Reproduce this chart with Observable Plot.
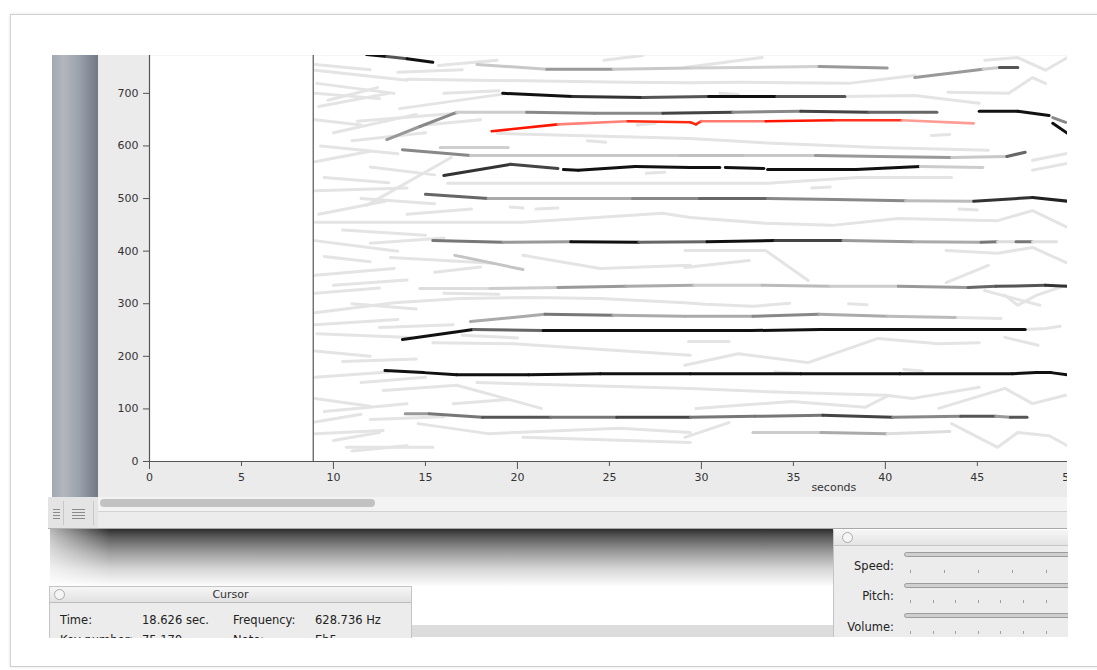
<!DOCTYPE html>
<html><head><meta charset="utf-8">
<script src="https://cdn.jsdelivr.net/npm/d3@7"></script>
<script src="https://cdn.jsdelivr.net/npm/@observablehq/plot@0.6"></script>
<style>
body{margin:0;background:#fff;font-family:"DejaVu Sans",sans-serif;}
#page{position:relative;width:1097px;height:670px;overflow:hidden;background:#fff;}
.abs{position:absolute;}
#frame{left:10px;top:14px;width:1100px;height:651px;border:1px solid #d0d0d0;box-shadow:0 0 3px rgba(0,0,0,0.12);background:#fff;}
#sidebar{left:52px;top:55px;width:46px;height:442px;background:linear-gradient(to right,#a2a8b2 0%,#b2b7bf 25%,#9aa0aa 60%,#727884 100%);}
#chart{left:98px;top:55px;width:969px;height:442px;background:#ebebeb;overflow:hidden;}
#scroll{left:98px;top:497px;width:969px;height:14px;background:#f3f3f3;}
#thumb{left:100px;top:499px;width:275px;height:8px;border-radius:4px;background:#c2c2c2;}
#status{left:98px;top:511px;width:969px;height:16px;background:#ececec;border-top:1px solid #d2d2d2;border-bottom:1px solid #a9a9a9;}
#icons{left:48px;top:497px;width:50px;height:31px;background:#e4e4e4;border-bottom:1px solid #b0b0b0;}
.ico{position:absolute;height:11px;background:repeating-linear-gradient(to bottom,#8a8a8a 0,#8a8a8a 1px,transparent 1px,transparent 3px);}
.sep{position:absolute;top:4px;width:1px;height:24px;background:#c8c8c8;}
#shadow{left:50px;top:529px;width:783px;height:57px;background:linear-gradient(to bottom,#2e2e2e 0%,#5e5e5e 15%,#9a9a9a 40%,#d6d6d6 70%,#fdfdfd 100%);-webkit-mask-image:linear-gradient(to right,rgba(0,0,0,0.35) 0,#000 60px);mask-image:linear-gradient(to right,rgba(0,0,0,0.35) 0,#000 60px);}
#graybar{left:411px;top:625px;width:422px;height:12px;background:#dcdcdc;}
#cursor{left:49px;top:586px;width:361px;height:51px;overflow:hidden;background:#ececec;border:1px solid #c4c4c4;border-bottom:none;}
#cursor .title{height:15px;background:linear-gradient(#f6f6f6,#e2e2e2);border-bottom:1px solid #bdbdbd;text-align:center;font-size:11px;line-height:15px;color:#333;}
.circle{position:absolute;width:9px;height:9px;border-radius:50%;border:1px solid #ababab;background:#f5f5f5;}
.lbl{position:absolute;font-size:11.5px;line-height:14px;color:#222;white-space:nowrap;}
#controls{left:833px;top:530px;width:234px;height:107px;overflow:hidden;background:#ececec;border-left:1px solid #c4c4c4;}
#controls .title{height:15px;background:linear-gradient(#f6f6f6,#e4e4e4);border-bottom:1px solid #c6c6c6;}
.slider{position:absolute;left:70px;width:200px;height:3px;border-radius:3px;background:#cfcfcf;border:1px solid #9c9c9c;}
.tick{position:absolute;width:1px;height:3px;background:#a0a0a0;}
.clbl{position:absolute;left:0;width:60px;text-align:right;font-size:11.5px;line-height:14px;color:#222;}
</style></head>
<body>
<div id="page">
  <div id="frame" class="abs"></div>
  <div id="sidebar" class="abs"></div>
  <div id="chart" class="abs"></div>
  <div id="scroll" class="abs"></div>
  <div id="thumb" class="abs"></div>
  <div id="status" class="abs"></div>
  <div id="icons" class="abs">
    <div class="ico" style="left:5px;top:12px;width:7px;"></div>
    <div class="sep" style="left:15px;"></div>
    <div class="ico" style="left:24px;top:12px;width:13px;"></div>
    <div class="sep" style="left:45px;"></div>
  </div>
  <div id="shadow" class="abs"></div>
  <div id="graybar" class="abs"></div>
  <div id="cursor" class="abs">
    <div class="title">Cursor</div>
    <div class="circle" style="left:4px;top:2px;"></div>
    <div class="lbl" style="left:10px;top:26px;">Time:</div>
    <div class="lbl" style="left:92px;top:26px;">18.626 sec.</div>
    <div class="lbl" style="left:183px;top:26px;">Frequency:</div>
    <div class="lbl" style="left:265px;top:26px;">628.736 Hz</div>
    <div class="lbl" style="left:10px;top:46px;">Key number:</div>
    <div class="lbl" style="left:92px;top:46px;">75.179</div>
    <div class="lbl" style="left:183px;top:46px;">Note:</div>
    <div class="lbl" style="left:265px;top:46px;">Eb5</div>
  </div>
  <div id="controls" class="abs">
    <div class="title"></div>
    <div class="circle" style="left:8px;top:2px;"></div>
    <div class="clbl" style="top:29px;">Speed:</div>
    <div class="clbl" style="top:59px;">Pitch:</div>
    <div class="clbl" style="top:90px;">Volume:</div>
    <div class="slider" style="top:22px;"></div>
    <div class="slider" style="top:53px;"></div>
    <div class="slider" style="top:83px;"></div>
    <div id="ticks"></div>
  </div>
</div>
<script>
// ---------- data (seconds, Hz) ----------
const freqTicks = [0, 100, 200, 300, 400, 500, 600, 700];
const majorTimeTicks = [0, 10, 20, 30, 40, 50];
const minorTimeTicks = [5, 15, 25, 35, 45];
const axisLabel = "seconds";
const layerStart = 8.9;

// main pitch tracks: points [t, f] and a shade per segment
const trackA = [[11.8,774],[12.9,770],[14.0,766],[15.4,759]];
const shadeA = ["#111","#555","#111"];
const trackB = [[17.8,755],[21.6,746],[25.2,746],[29.4,748],[36.4,751],[40.1,748]];
const shadeB = ["#c8c8c8","#999","#c8c8c8","#d0d0d0","#999"];
const trackB2 = [[41.6,730],[45.3,746],[46.2,749],[47.2,749]];
const shadeB2 = ["#999","#ccc","#555"];
const trackC = [[19.2,700],[23.0,694],[26.8,692],[30.4,694],[34.1,694],[37.8,694]];
const shadeC = ["#111","#333","#555","#111","#555"];
const trackD = [[12.9,612],[14.7,637],[16.7,664],[20.5,664],[24.2,662],[27.9,662],[31.7,664],[35.4,666],[39.1,664],[42.8,664]];
const shadeD = ["#999","#888","#ccc","#888","#888","#444","#888","#444","#666"];
const trackE = [[45.1,666],[47.2,666],[48.9,658]];
const shadeE = ["#111","#111"];
const trackE2 = [[49.1,654],[49.8,645]];
const shadeE2 = ["#888"];
const trackE3 = [[49.1,643],[49.9,624]];
const shadeE3 = ["#111"];
const trackG = [[13.75,593],[17.45,582],[21.25,582],[25.05,582],[28.86,582],[32.4,582],[36.2,582],[39.7,580],[43.6,578],[46.6,580],[47.6,588]];
const shadeG = ["#888","#c8c8c8","#c8c8c8","#c8c8c8","#c0c0c0","#c8c8c8","#999","#999","#c8c8c8","#666"];
const trackH1 = [[16.0,544],[19.6,565],[22.2,557]];
const shadeH1 = ["#333","#444"];
const trackH2 = [[22.5,555],[23.3,554],[26.4,561],[29.4,559],[31.0,559]];
const shadeH2 = ["#111","#111","#111","#111"];
const trackH3 = [[31.3,559],[33.4,557]];
const shadeH3 = ["#111"];
const trackH4 = [[33.6,555],[38.4,555],[41.9,561]];
const shadeH4 = ["#111","#111"];
const trackH5 = [[41.9,561],[45.3,559]];
const shadeH5 = ["#ccc"];
const trackI = [[15.0,508],[18.4,500],[22.3,500],[26.25,500],[29.9,500],[33.6,500],[37.3,498],[41.1,496],[44.8,495],[48.0,502],[49.9,495]];
const shadeI = ["#666","#aaa","#aaa","#888","#666","#888","#888","#bbb","#333","#222"];
const trackJ = [[15.4,420],[19.2,417],[22.9,418],[26.6,417],[30.3,418],[34.0,420],[37.7,420],[41.5,418],[45.2,417],[46.1,418],[47.1,418],[48.0,418],[49.3,418]];
const shadeJ = ["#777","#999","#111","#666","#111","#444","#999","#aaa","#777","#ddd","#777","#e0e0e0"];
const trackK = [[14.7,329],[18.5,329],[22.2,331],[25.9,333],[29.6,335],[33.3,335],[37.0,333],[40.7,333],[44.5,331],[46.0,333],[48.7,335],[49.9,333]];
const shadeK = ["#ddd","#ccc","#999","#aaa","#ccc","#bbb","#ccc","#999","#666","#555","#333"];
const trackM = [[17.45,266],[21.5,280],[25.2,278],[29.1,276],[32.8,276],[36.4,280],[40.1,276],[43.8,274]];
const shadeM = ["#aaa","#777","#aaa","#aaa","#888","#aaa","#bbb"];
const trackN = [[13.75,232],[17.6,251],[21.4,249],[25.05,249],[28.9,249],[32.7,249],[36.5,251],[40.3,251],[44.1,251],[47.6,251]];
const shadeN = ["#111","#666","#111","#111","#111","#111","#111","#111","#111"];
const trackO = [[12.8,173],[14.9,169],[16.7,165],[20.6,165],[24.5,167],[29.4,167],[35.4,167],[40.8,167],[46.9,167],[48.2,169],[49.0,169],[49.9,165]];
const shadeO = ["#111","#111","#111","#111","#111","#111","#111","#111","#111","#111","#111"];
const trackP = [[13.9,91],[15.2,91],[18.1,84],[21.8,84],[25.4,84],[29.4,84],[32.9,86],[36.6,88],[40.4,84],[44.1,86],[46.0,86],[46.8,84],[47.7,84]];
const shadeP = ["#999","#777","#555","#777","#444","#777","#777","#444","#888","#555","#999","#555"];
const trackQ = [[32.8,55],[36.5,55],[40.1,53],[43.5,57]];
const shadeQ = ["#ccc","#aaa","#ddd"];
const dimTrack1 = [[16.6,392],[20.3,365]];
const dimShade1 = ["#c4c4c4"];
const dimTrack2 = [[15.8,597],[19.5,597]];
const dimShade2 = ["#cfcfcf"];

// selected (red) track
const trackRed = [[18.6,628],[22.2,641],[26.0,647],[29.4,645],[29.7,641],[30.0,647],[33.5,647],[37.2,649],[40.9,649],[44.8,643]];
const shadeRed = ["#ff1500","#ff8278","#ff2a10","#ff2a10","#ff2a10","#ff7a70","#ff1500","#ff3020","#ff9c94"];

// faint background tracks
const faintTracks = [
 [[9.0,744],[14.0,725]],
 [[14.0,727],[25.9,721],[29.4,720],[32.2,721],[38.0,719],[41.6,734]],
 [[15.7,753],[18.9,763]],
 [[9.1,719],[13.3,700]],
 [[9.7,687],[12.4,711]],
 [[11.3,647],[16.7,662]],
 [[13.6,671],[19.5,700]],
 [[11.8,487],[16.4,578]],
 [[9.0,455],[20.3,455],[27.9,472],[29.4,464],[33.5,453],[37.1,449],[40.7,462],[46.1,458],[48.0,477],[49.9,445]],
 [[16.2,529],[29.4,529],[33.6,529],[38.5,540],[43.6,540]],
 [[13.1,388],[18.7,377]],
 [[18.9,624],[29.4,614],[33.9,605],[39.6,597],[45.6,592]],
 [[37.8,694],[41.6,696],[45.1,681]],
 [[29.1,749],[33.3,768]],
 [[45.4,763],[47.2,768],[48.7,744],[49.9,768]],
 [[43.4,702],[46.7,700],[48.0,730],[48.7,719]],
 [[48.0,573],[49.9,586]],
 [[48.0,554],[49.9,567]],
 [[24.7,763],[26.8,772]],
 [[9.0,354],[13.3,367]],
 [[9.0,283],[13.3,302],[16.9,310],[20.7,312],[24.5,310],[29.1,302],[30.2,299],[32.8,295],[34.8,301]],
 [[9.1,243],[14.2,236]],
 [[15.4,226],[19.8,224],[29.4,202]],
 [[29.1,183],[32.0,205],[35.8,188],[39.6,234],[42.9,224],[45.1,226]],
 [[12.7,135],[16.7,145],[21.3,101]],
 [[17.8,150],[29.4,139],[34.9,131],[40.0,126],[41.5,120],[45.1,141]],
 [[9.0,53],[12.7,59]],
 [[14.6,72],[18.4,53],[25.6,63],[29.4,55]],
 [[20.3,46],[29.4,36]],
 [[10.7,27],[15.4,27]],
 [[29.7,101],[34.9,114],[38.9,103],[40.2,126]],
 [[42.9,101],[46.5,139],[48.0,110],[49.8,126]],
 [[29.1,46],[31.5,74]],
 [[43.6,72],[46.1,27],[47.2,55],[48.9,49],[49.9,30]],
 [[29.1,369],[32.6,382]],
 [[29.1,401],[33.5,401],[35.8,344]],
 [[43.3,340],[45.6,373]],
 [[46.5,236],[48.3,221]],
 [[46.5,316],[47.2,297],[48.2,316],[49.8,335]],
 [[45.4,325],[48.4,297]],
 [[29.3,228],[31.5,228]],
 [[20.3,392],[24.5,367],[29.4,373]],
 [[43.3,401],[46.1,396],[48.0,407],[49.9,377]],
 [[47.6,251],[48.7,253],[49.5,257]],
 [[43.8,274],[46.3,272]],
 [[9.0,700],[12.5,690]],
 [[9.2,675],[13.0,700]],
 [[9.0,650],[11.5,640]],
 [[10.0,625],[14.5,660]],
 [[9.3,600],[13.5,585]],
 [[11.0,610],[15.0,625]],
 [[9.0,570],[12.0,590]],
 [[12.0,560],[15.5,545]],
 [[9.5,540],[13.0,530]],
 [[9.0,515],[14.0,520]],
 [[11.5,500],[15.5,490]],
 [[9.2,470],[12.8,495]],
 [[10.5,440],[15.0,430]],
 [[9.0,420],[13.5,400]],
 [[12.0,415],[16.0,425]],
 [[9.5,390],[12.0,380]],
 [[10.0,335],[14.0,345]],
 [[9.0,320],[12.5,330]],
 [[11.0,300],[14.5,290]],
 [[9.0,260],[13.5,270]],
 [[12.5,255],[16.5,260]],
 [[9.0,210],[12.0,200]],
 [[10.5,190],[14.5,195]],
 [[9.0,160],[13.0,170]],
 [[11.5,150],[15.0,160]],
 [[9.0,120],[12.0,105]],
 [[9.5,95],[14.0,110]],
 [[12.0,80],[16.0,85]],
 [[9.0,75],[11.5,90]],
 [[10.0,40],[12.5,55]],
 [[11.0,20],[14.0,30]],
 [[9.0,755],[12.0,745]],
 [[13.5,740],[17.0,745]],
 [[16.0,700],[19.0,705]],
 [[15.0,640],[18.0,650]],
 [[14.0,470],[17.5,480]],
 [[15.5,360],[18.0,370]],
 [[16.0,320],[19.0,318]],
 [[17.0,240],[20.0,235]],
 [[16.5,110],[19.5,118]],
 [[19.6,484],[20.3,482]],
 [[21.0,480],[22.2,482]],
 [[23.8,610],[24.8,607]],
 [[26.5,640],[27.5,643]],
 [[31.0,700],[32.0,698]],
 [[36.0,520],[37.0,522]],
 [[27.0,548],[28.0,550]],
 [[34.0,170],[35.2,168]],
 [[41.0,175],[42.0,172]],
 [[38.0,300],[39.0,298]],
 [[44.0,480],[45.0,478]],
 [[42.5,620],[43.5,622]]
];

// slider tick counts (control panel)
const speedTicks = [0,1,2,3,4,5];
const pitchTicks = [0,1,2,3,4,5,6,7];
const volumeTicks = [0,1,2,3,4,5,6,7];

// ---------- build ----------
function toSegs(pts, shades) {
  const out = [];
  for (let i = 0; i < pts.length - 1; i++) {
    if (shades[i]) out.push({t1: pts[i][0], f1: pts[i][1], t2: pts[i+1][0], f2: pts[i+1][1], c: shades[i]});
  }
  return out;
}
const grayPairs = [
  [dimTrack1, dimShade1], [dimTrack2, dimShade2],
  [trackA, shadeA], [trackB, shadeB], [trackB2, shadeB2], [trackC, shadeC], [trackD, shadeD],
  [trackE, shadeE], [trackE2, shadeE2], [trackE3, shadeE3], [trackG, shadeG],
  [trackH1, shadeH1], [trackH2, shadeH2], [trackH3, shadeH3], [trackH4, shadeH4], [trackH5, shadeH5],
  [trackI, shadeI], [trackJ, shadeJ], [trackK, shadeK], [trackM, shadeM], [trackN, shadeN],
  [trackO, shadeO], [trackP, shadeP], [trackQ, shadeQ]
];
const graySegs = grayPairs.flatMap(([p, s]) => toSegs(p, s));
const redSegs = toSegs(trackRed, shadeRed);
const faintPts = faintTracks.flatMap((tr, id) => tr.map(([t, f]) => ({t, f, id})));

const chart = Plot.plot({
  width: 969, height: 442,
  marginLeft: 51, marginRight: 0, marginTop: 0, marginBottom: 36,
  style: {background: "transparent", fontFamily: "DejaVu Sans, sans-serif", fontSize: "11px", color: "#333", overflow: "hidden"},
  x: {domain: [0, 49.9]},
  y: {domain: [0, 772]},
  color: {type: "identity"},
  marks: [
    Plot.frame({fill: "white"}),
    Plot.line(faintPts, {x: "t", y: "f", z: "id", stroke: "#e4e4e4", strokeWidth: 3, clip: true}),
    Plot.link(graySegs, {x1: "t1", y1: "f1", x2: "t2", y2: "f2", stroke: "c", strokeWidth: 3, strokeLinecap: "round", clip: true}),
    Plot.link(redSegs, {x1: "t1", y1: "f1", x2: "t2", y2: "f2", stroke: "c", strokeWidth: 2.6, strokeLinecap: "round", clip: true}),
    Plot.ruleX([layerStart], {stroke: "#555", strokeWidth: 1.2}),
    Plot.ruleX([0], {stroke: "#555", strokeWidth: 1.2}),
    Plot.ruleY([0], {stroke: "#555", strokeWidth: 1.2}),
    Plot.axisY({ticks: freqTicks, tickSize: 6, tickPadding: 5, label: null, stroke: "#555", fill: "#333"}),
    Plot.axisX({ticks: majorTimeTicks, tickSize: 8, tickPadding: 4, label: null, stroke: "#555", fill: "#333"}),
    Plot.axisX({ticks: minorTimeTicks, tickSize: 5, tickPadding: 7, label: null, stroke: "#555", fill: "#333"}),
    Plot.text([{t: 37.2, label: axisLabel}], {x: "t", text: "label", frameAnchor: "bottom", dy: 29, fill: "#333"})
  ]
});
document.getElementById("chart").appendChild(chart);

// slider ticks
const tickBox = document.getElementById("ticks");
[[speedTicks, 34, 40], [pitchTicks, 22.6, 70], [volumeTicks, 22.6, 101]].forEach(([arr, step, top]) => {
  arr.forEach(i => {
    const d = document.createElement("div");
    d.className = "tick";
    d.style.left = (76 + i * step) + "px";
    d.style.top = top + "px";
    tickBox.appendChild(d);
  });
});
</script>
</body></html>
